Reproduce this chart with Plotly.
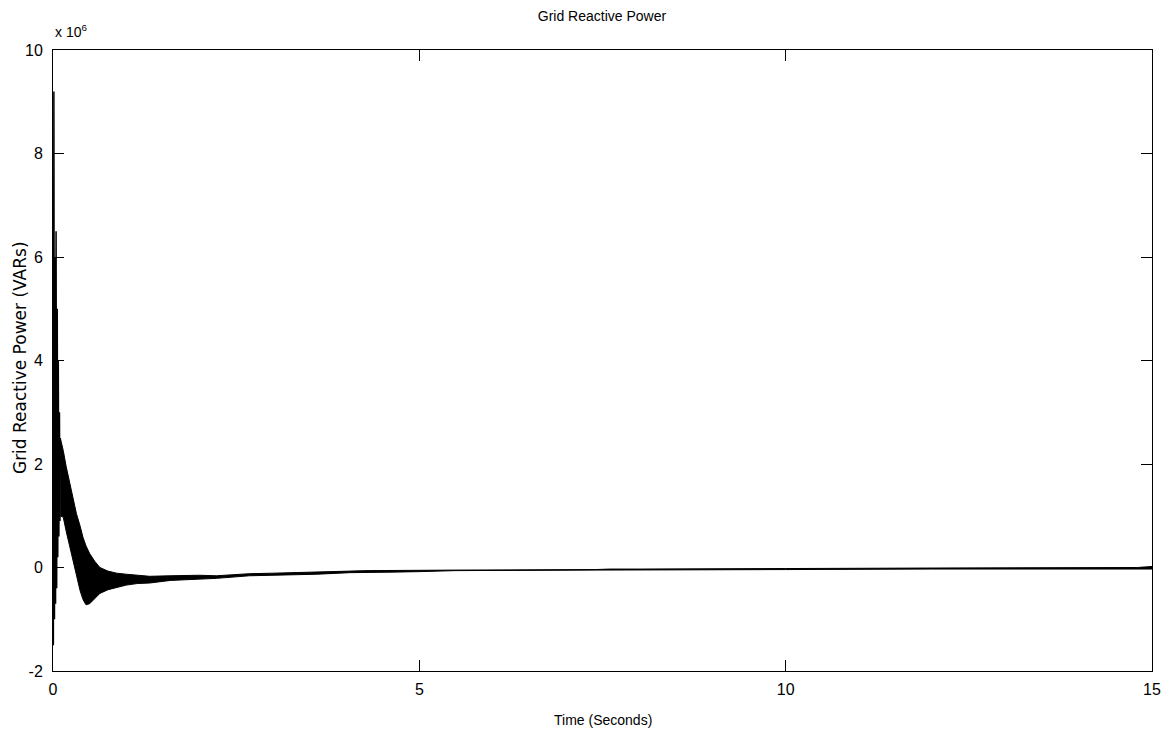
import plotly.graph_objects as go

# ---- data (values in units of 1e6 VARs) ----
t_spike = [0.0, 0.005, 0.012, 0.02, 0.028, 0.035, 0.042, 0.05, 0.058, 0.065, 0.072, 0.08, 0.088, 0.095, 0.10]
v_spike = [0.0, -1.5, 9.2, -1.0, 6.0, -0.7, 6.5, -0.4, 5.0, 0.2, 4.0, 0.6, 3.0, 0.9, 2.5]

t_env = [0.10, 0.14, 0.18, 0.23, 0.28, 0.32, 0.37, 0.41, 0.45, 0.50, 0.57, 0.64, 0.75, 0.87,
         1.0, 1.15, 1.32, 1.6, 2.0, 2.23, 2.68, 3.0, 3.6, 4.05, 4.3, 4.6, 5.0, 5.5,
         7.4, 7.6, 8.0, 8.3, 10.0, 12.0, 14.8, 15.0]
v_upper = [2.5, 2.26, 1.95, 1.62, 1.3, 1.04, 0.8, 0.58, 0.42, 0.27, 0.12, 0.0, -0.07, -0.11,
           -0.13, -0.15, -0.17, -0.16, -0.15, -0.16, -0.12, -0.11, -0.08, -0.07, -0.06, -0.06, -0.06, -0.05,
           -0.04, -0.03, -0.03, -0.03, -0.02, -0.01, 0.0, 0.02]
v_lower = [1.0, 0.97, 0.7, 0.39, 0.1, -0.19, -0.45, -0.62, -0.72, -0.70, -0.6, -0.5, -0.43, -0.38,
           -0.34, -0.31, -0.30, -0.25, -0.22, -0.21, -0.16, -0.15, -0.13, -0.10, -0.10, -0.09, -0.08, -0.06,
           -0.05, -0.05, -0.05, -0.05, -0.04, -0.03, -0.02, -0.03]

x_ticks = [0, 5, 10, 15]
y_ticks = [-2, 0, 2, 4, 6, 8, 10]

FONT = "Liberation Sans, Arial, sans-serif"

fig = go.Figure()
fig.add_trace(go.Scatter(x=t_env, y=v_lower, mode="lines",
                         line=dict(color="black", width=1), showlegend=False, hoverinfo="skip"))
fig.add_trace(go.Scatter(x=t_env, y=v_upper, mode="lines", fill="tonexty", fillcolor="black",
                         line=dict(color="black", width=1), showlegend=False, hoverinfo="skip"))
fig.add_trace(go.Scatter(x=t_spike, y=v_spike, mode="lines",
                         line=dict(color="black", width=1.5), showlegend=False, hoverinfo="skip"))

axis_common = dict(showgrid=False, zeroline=False, showline=True, linecolor="black", linewidth=1,
                   mirror="allticks", ticks="inside", ticklen=11, tickwidth=1, tickcolor="black",
                   automargin=False,
                   tickfont=dict(family=FONT, size=16, color="black"))

fig.update_xaxes(range=[0, 15], tickvals=x_ticks, ticktext=[str(v) for v in x_ticks],
                 ticklabelstandoff=4, **axis_common)
fig.update_yaxes(range=[-2, 10], tickvals=y_ticks, ticktext=[str(v) for v in y_ticks],
                 ticklabelstandoff=6, **axis_common)

fig.update_layout(
    width=1154, height=724,
    margin=dict(l=45, r=10, t=42, b=61, autoexpand=False),
    paper_bgcolor="white", plot_bgcolor="white",
    title=dict(text="Grid Reactive Power", x=0.5147, xanchor="center", y=0.989, yanchor="middle",
               yref="container", font=dict(family=FONT, size=14, color="black")),
    annotations=[
        dict(text="Time (Seconds)", xref="paper", yref="paper", x=0.5, y=-0.079, yanchor="middle",
             showarrow=False, font=dict(family=FONT, size=14, color="black")),
        dict(text="Grid Reactive Power (VARs)", xref="paper", yref="paper", x=-0.030, y=0.504,
             xanchor="center", yanchor="middle", textangle=-90,
             showarrow=False, font=dict(family="DejaVu Sans, sans-serif", size=17, color="black")),
        dict(text="x 10<sup>6</sup>", xref="paper", yref="paper", x=0.0, y=1.013, xanchor="left",
             yanchor="bottom", showarrow=False, font=dict(family=FONT, size=14, color="black")),
    ],
)

fig.write_html("out.html")
